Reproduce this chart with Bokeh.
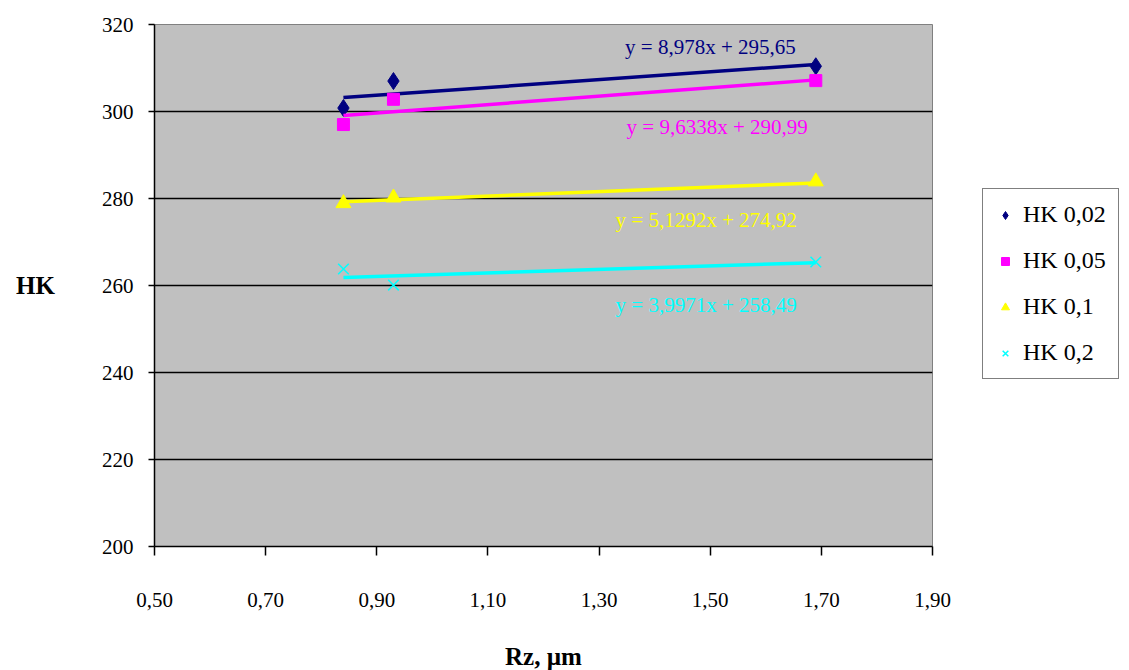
from bokeh.plotting import figure
from bokeh.models import Legend, LegendItem, FixedTicker, CustomJSTickFormatter, ColumnDataSource
from bokeh.core.properties import value
from bokeh.embed import file_html
from bokeh.resources import INLINE

# ---- data ----
series_names = ["HK 0,02", "HK 0,05", "HK 0,1", "HK 0,2"]
rz = [0.84, 0.93, 1.69]
hk_002 = [300.8, 307.0, 310.4]
hk_005 = [297.0, 302.8, 307.1]
hk_01 = [278.9, 280.2, 283.9]
hk_02 = [263.8, 260.1, 265.4]
slopes = [8.978, 9.6338, 5.1292, 3.9971]
intercepts = [295.65, 290.99, 274.92, 258.49]
x_ticks = [0.5, 0.7, 0.9, 1.1, 1.3, 1.5, 1.7, 1.9]
y_ticks = [200, 220, 240, 260, 280, 300, 320]

colors = ["#000080", "#FF00FF", "#FFFF00", "#00FFFF"]
markers = ["diamond", "square", "triangle", "x"]
msizes = [17, 12, 15, 15]
label_offsets = [(-20, -17), (-8, 47), (-19, 37), (-19, 42)]
FONT = "'Liberation Serif'"

p = figure(width=1113, height=654, output_backend="svg", toolbar_location=None,
           x_range=(0.5, 1.9), y_range=(200, 320),
           frame_width=778, frame_height=522,
           min_border_left=154, min_border_top=24, min_border_bottom=108, min_border_right=181)
p.background_fill_color = "#C0C0C0"
p.border_fill_color = "white"
p.outline_line_color = "#808080"
p.outline_line_width = 1

p.xgrid.grid_line_color = None
p.ygrid.grid_line_color = "black"
p.ygrid.grid_line_width = 1.5

for ax in (p.xaxis[0], p.yaxis[0]):
    ax.axis_line_color = "black"
    ax.axis_line_width = 1.5
    ax.major_tick_line_color = "black"
    ax.major_tick_line_width = 1.5
    ax.minor_tick_line_color = None
    ax.major_tick_in = 0
    ax.major_label_text_font = FONT
    ax.major_label_text_font_size = "21px"
    ax.major_label_text_color = "black"
    ax.axis_label_text_font = FONT
    ax.axis_label_text_font_style = "bold"
    ax.axis_label_text_font_size = "25px"
    ax.axis_label_text_color = "black"

p.xaxis.ticker = FixedTicker(ticks=x_ticks)
p.yaxis.ticker = FixedTicker(ticks=y_ticks)
p.xaxis.formatter = CustomJSTickFormatter(code="return tick.toFixed(2).replace('.', ',');")
p.yaxis.formatter = CustomJSTickFormatter(code="return tick.toFixed(0);")
p.xaxis.major_tick_out = 9
p.yaxis.major_tick_out = 6
p.xaxis.major_label_standoff = 37
p.yaxis.major_label_standoff = 15
p.xaxis.axis_label = "Rz, \u00b5m"
p.xaxis.axis_label_standoff = 33
p.yaxis.axis_label = "HK"
p.yaxis.axis_label_orientation = "horizontal"
p.yaxis.axis_label_standoff = 44

all_y = [hk_002, hk_005, hk_01, hk_02]
items = []
for i in range(4):
    xs = [min(rz), max(rz)]
    ys = [slopes[i] * x + intercepts[i] for x in xs]
    p.line(xs, ys, line_color=colors[i], line_width=3.5)
    src = ColumnDataSource(dict(x=rz, y=all_y[i]))
    if markers[i] == "x":
        r = p.scatter("x", "y", source=src, marker="x", size=msizes[i],
                      line_color=colors[i], line_width=1.5)
    else:
        r = p.scatter("x", "y", source=src, marker=markers[i], size=msizes[i],
                      fill_color=colors[i], line_color=colors[i])
    items.append(LegendItem(label=series_names[i], renderers=[r]))
    lab = "y = " + str(slopes[i]).replace(".", ",") + "x + " + str(intercepts[i]).replace(".", ",")
    xo, yo = label_offsets[i]
    p.text(x=[max(rz)], y=[slopes[i] * max(rz) + intercepts[i]], text=[lab],
           x_offset=xo, y_offset=yo, text_align="right", text_baseline="middle",
           text_color=colors[i], text_font=value("Liberation Serif"), text_font_size="21px")

legend = Legend(items=items, location=(50, 167), orientation="vertical")
legend.label_text_font = FONT
legend.label_text_font_size = "24px"
legend.label_text_color = "black"
legend.border_line_color = "black"
legend.border_line_width = 1.5
legend.background_fill_color = "white"
legend.background_fill_alpha = 1
legend.spacing = 19
legend.padding = 12
legend.glyph_width = 20
legend.glyph_height = 22
legend.label_standoff = 8
legend.margin = 0
p.add_layout(legend, "right")

open("out.html", "w").write(file_html(p, INLINE))
